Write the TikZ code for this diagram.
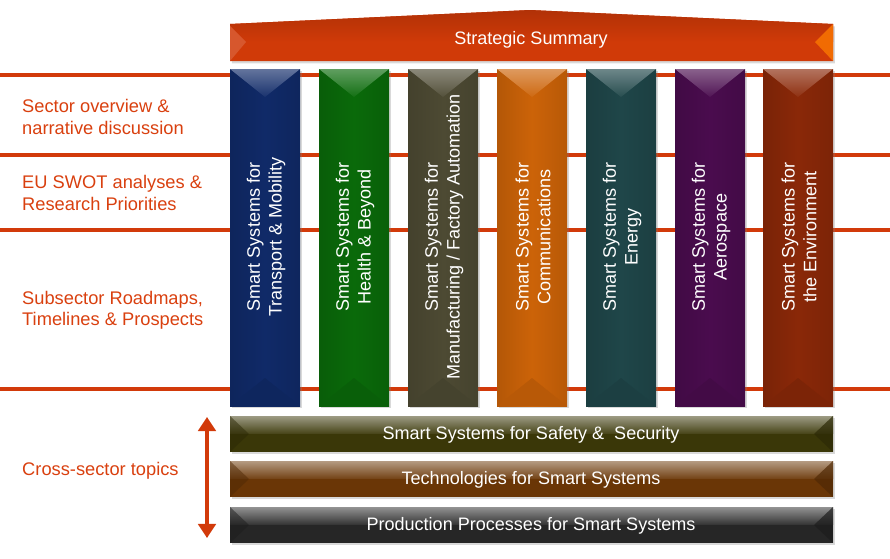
\documentclass[tikz,border=0pt]{standalone}
\usepackage{fontspec}
\setmainfont{Liberation Sans}
\usetikzlibrary{shadows,arrows.meta}

% Colours taken from the slide
\definecolor{sectorred}{HTML}{D9400F}
\definecolor{linered}{HTML}{D23A0A}
\definecolor{summaryred}{HTML}{D03A08}
\definecolor{transblue}{HTML}{102A68}
\definecolor{healthgreen}{HTML}{0A6A0A}
\definecolor{manuolive}{HTML}{4D4A33}
\definecolor{commorange}{HTML}{CC6308}
\definecolor{energyteal}{HTML}{1F4649}
\definecolor{aeropurple}{HTML}{4A0C4E}
\definecolor{envbrown}{HTML}{8A2808}
\definecolor{safetyolive}{HTML}{3A3708}
\definecolor{techbrown}{HTML}{6A3606}
\definecolor{prodgrey}{HTML}{262626}

\tikzset{
  pillartext/.style={text=white, font=\fontsize{15.4}{18.6}\selectfont, align=center, rotate=90, inner sep=0pt},
  bartext/.style={text=white, font=\fontsize{15.4}{18.6}\selectfont, inner sep=0pt},
  sidetext/.style={text=sectorred, font=\fontsize{15.6}{18}\selectfont, align=left, anchor=west, inner sep=0pt},
  rowline/.style={linered, line width=2.6pt},
  boxshadow/.style={drop shadow={opacity=0.3, shadow xshift=1.5pt, shadow yshift=-2pt}}
}

% One sector pillar: left x, colour
\newcommand{\pillar}[2]{%
  \fill[#2, boxshadow] (#1,69) rectangle +(70,337);
  \shade[left color=#2!88!black, right color=#2!90!black, middle color=#2] (#1,69) rectangle +(70,337);
  \shade[top color=#2!65!white, bottom color=#2!96!white] (#1,69) -- +(70,0) -- +(35,28) -- cycle;
  \fill[#2!90!black] (#1,406) -- +(70,0) -- +(35,-28) -- cycle;
}

% One cross-sector bar: top y, colour
\newcommand{\topicbar}[2]{%
  \fill[#2, boxshadow] (230,#1) rectangle (833,#1+36);
  \shade[top color=#2!50!white, bottom color=#2!92!white] (230,#1) rectangle (833,#1+17);
  \fill[#2!75!black, opacity=0.5] (230,#1) -- (249,#1+18) -- (230,#1+36) -- cycle;
  \fill[#2!75!black, opacity=0.7] (833,#1) -- (814,#1+18) -- (833,#1+36) -- cycle;
}

\begin{document}
\begin{tikzpicture}[x=0.03cm, y=-0.03cm]
\useasboundingbox (0,0) rectangle (890,559);

% Draw the row lines
\draw[rowline] (0,75) -- (890,75);
\draw[rowline] (0,155) -- (890,155);
\draw[rowline] (0,230) -- (890,230);
\draw[rowline] (0,389) -- (890,389);

% Row labels
\node[sidetext] (overview) at (22,117) {Sector overview \&\\narrative discussion};
\node[sidetext] (swot) at (22,193) {EU SWOT analyses \&\\Research Priorities};
\node[sidetext] (roadmaps) at (22,310) {Subsector Roadmaps,\\Timelines \& Prospects};
\node[sidetext] (crosssector) at (22,471) {Cross-sector topics};

% Strategic summary roof
\fill[summaryred, boxshadow] (230,24) -- (530,10) -- (833,24) -- (833,61) -- (230,61) -- cycle;
\shade[top color=summaryred!85!black, bottom color=summaryred] (230,24) -- (530,10) -- (833,24) -- (833,42) -- (230,42) -- cycle;
\fill[summaryred!85!white] (230,26) -- (246,42) -- (230,61) -- cycle;
\fill[orange!70!summaryred] (833,24) -- (815,42) -- (833,61) -- cycle;
\node[bartext] (summary) at (531,40) {Strategic Summary};

% Sector pillars
\pillar{230}{transblue}
\node[pillartext] (transport) at (266,237) {Smart Systems for\\Transport \& Mobility};
\pillar{319}{healthgreen}
\node[pillartext] (health) at (355,237) {Smart Systems for\\Health \& Beyond};
\pillar{408}{manuolive}
\node[pillartext] (manufacturing) at (444,237) {Smart Systems for\\Manufacturing / Factory Automation};
\pillar{497}{commorange}
\node[pillartext] (communications) at (533,237) {Smart Systems for\\Communications};
\pillar{586}{energyteal}
\node[pillartext] (energy) at (622,237) {Smart Systems for\\Energy};
\pillar{675}{aeropurple}
\node[pillartext] (aerospace) at (711,237) {Smart Systems for\\Aerospace};
\pillar{763}{envbrown}
\node[pillartext] (environment) at (799,237) {Smart Systems for\\the Environment};

% Cross-sector bars
\topicbar{416}{safetyolive}
\node[bartext] (safety) at (531,435) {Smart Systems for Safety \&\ \ Security};
\topicbar{461}{techbrown}
\node[bartext] (technologies) at (531,480) {Technologies for Smart Systems};
\topicbar{507}{prodgrey}
\node[bartext] (production) at (531,526) {Production Processes for Smart Systems};

% Cross-sector arrow
\coordinate (crosstop) at (207,417);
\coordinate (crossbot) at (207,538);
\draw[linered, line width=2.6pt, {Triangle[width=15pt, length=12pt]}-{Triangle[width=15pt, length=12pt]}] (crosstop) -- (crossbot);
\end{tikzpicture}
\end{document}
